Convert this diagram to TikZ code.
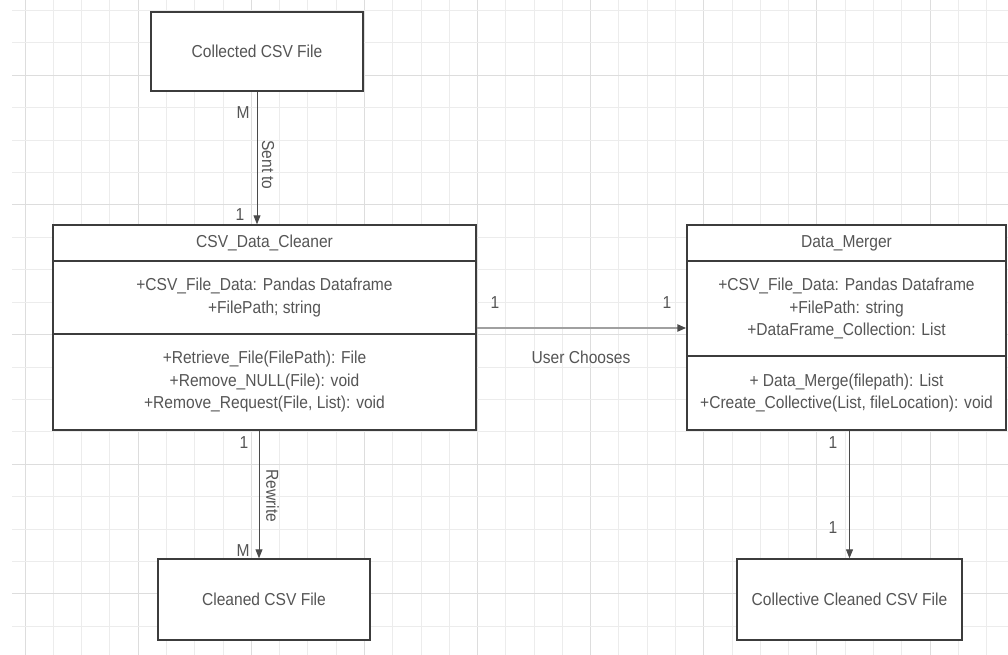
\documentclass[tikz,border=0pt]{standalone}
\usepackage{fontspec}
\setmainfont{Liberation Sans}[FakeStretch=0.9]
\usetikzlibrary{arrows.meta}
\definecolor{txt}{HTML}{555555}
\definecolor{bord}{HTML}{3C3C3C}
\definecolor{gridminor}{HTML}{ECECEC}
\definecolor{gridmajor}{HTML}{DDDDDD}
\definecolor{conn}{HTML}{4A4A4A}
\definecolor{hconn}{HTML}{A0A0A0}
\begin{document}
\begin{tikzpicture}[x=1pt,y=-1pt,
  every node/.style={font=\fontsize{17.3}{22.5}\selectfont, text=txt, inner sep=0pt},
  box/.style={draw=bord, line width=1.4pt, fill=white, align=center},
  arr/.style={draw=conn, line width=0.9pt, -{Triangle[length=9pt,width=7pt]}},
  harr/.style={draw=hconn, line width=2.2pt, -{Triangle[length=9pt,width=7pt,color=conn]}},
  gminor/.style={draw=gridminor, line width=0.8pt},
  gmajor/.style={draw=gridmajor, line width=0.9pt}
]
\useasboundingbox (0,0) rectangle (1008,655);
\fill[white] (0,0) rectangle (1008,655);
% grid
\foreach \i in {0,...,35}{
  \pgfmathsetmacro\gx{25+28.28*\i}
  \pgfmathtruncatemacro\gm{mod(\i,4)}
  \ifnum\gm=0 \draw[gmajor] (\gx,0) -- (\gx,655); \else \draw[gminor] (\gx,0) -- (\gx,655); \fi
}
\foreach \j in {0,...,20}{
  \pgfmathsetmacro\gy{10.5+32.4*\j}
  \pgfmathtruncatemacro\gm{mod(\j+2,4)}
  \ifnum\gm=0 \draw[gmajor] (12,\gy) -- (1008,\gy); \else \draw[gminor] (12,\gy) -- (1008,\gy); \fi
}
% simple boxes
\node[box, minimum width=212pt, minimum height=79pt] (src) at (257,51.5) {Collected CSV File};
\node[box, minimum width=212pt, minimum height=81pt] (dst) at (264,599.5) {Cleaned CSV File};
\node[box, minimum width=225pt, minimum height=81pt] (coll) at (849.5,599.5) {Collective Cleaned CSV File};
% CSV_Data_Cleaner
\node[box, minimum width=423pt, minimum height=36pt] (ch) at (264.5,243) {CSV\_Data\_Cleaner};
\node[box, minimum width=423pt, minimum height=73pt] (ca) at (264.5,297.5) {+CSV\_File\_Data: Pandas Dataframe\\+FilePath; string};
\node[box, minimum width=423pt, minimum height=96pt] (cm) at (264.5,382) {+Retrieve\_File(FilePath): File\\+Remove\_NULL(File): void\\+Remove\_Request(File, List): void};
% Data_Merger
\node[box, minimum width=319pt, minimum height=36pt] (mh) at (846.5,243) {Data\_Merger};
\node[box, minimum width=319pt, minimum height=95pt] (ma) at (846.5,308.5) {+CSV\_File\_Data: Pandas Dataframe\\+FilePath: string\\+DataFrame\_Collection: List};
\node[box, minimum width=319pt, minimum height=74pt] (mm) at (846.5,393) {+ Data\_Merge(filepath): List\\+Create\_Collective(List, fileLocation): void};
% connectors
\draw[arr] (src.south) -- (src.south |- ch.north);
\coordinate (cx) at ([xshift=-5pt]dst.north);
\draw[arr] (cm.south -| cx) -- (cx);
\coordinate (hy) at (0,328);
\draw[harr] (ca.east |- hy) -- (ma.west |- hy);
\draw[arr] (mm.south -| coll.north) -- (coll.north);
% labels
\node (l1) at (243,113) {M};
\node[rotate=-90] (l2) at (268,165) {Sent to};
\node (l3) at (240,215) {1};
\node (l4) at (244,443) {1};
\node[rotate=-90] (l5) at (272.5,496) {Rewrite};
\node (l6) at (243,551) {M};
\node (l7) at (495,303) {1};
\node (l8) at (667,303) {1};
\node (l9) at (581,357) {User Chooses};
\node (l10) at (833,443) {1};
\node (l11) at (833,528) {1};
\end{tikzpicture}
\end{document}
